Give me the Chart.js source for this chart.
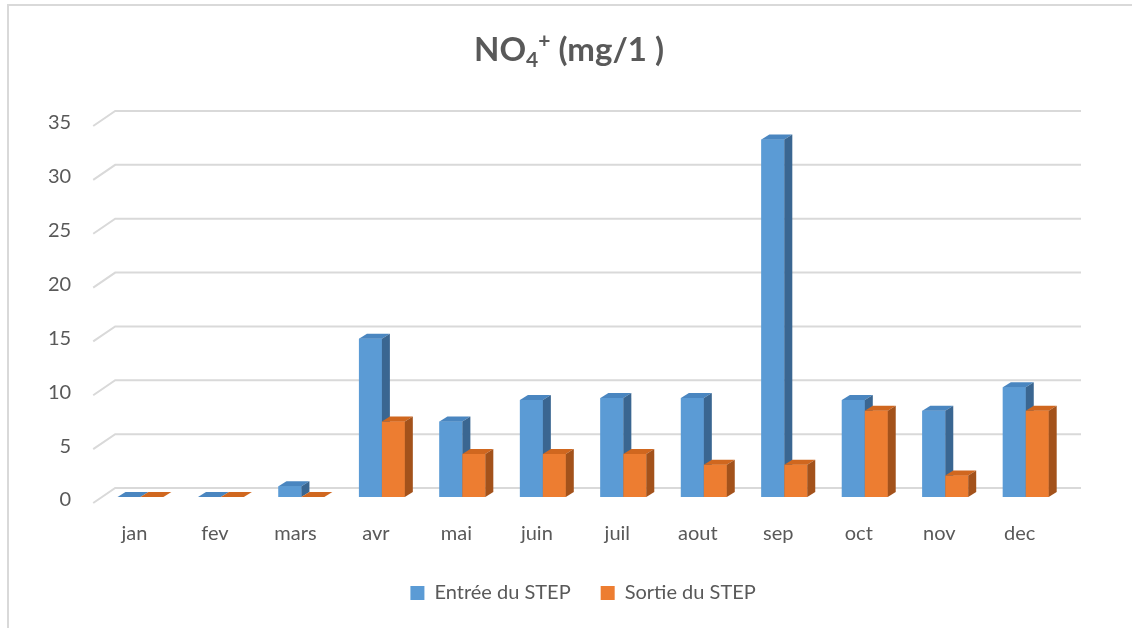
<!DOCTYPE html>
<html>
<head>
<meta charset="utf-8">
<script src="https://cdn.jsdelivr.net/npm/chart.js@4/dist/chart.umd.min.js"></script>
<style>
  html, body { margin: 0; padding: 0; background: #fff; }
  #wrap { position: relative; width: 1132px; height: 628px; overflow: hidden; }
  #frame { position: absolute; left: 7px; top: 4px; right: -10px; bottom: -10px;
           border-top: 2px solid #D9D9D9; border-left: 2px solid #D9D9D9; }
  #titre { position: absolute; left: 0; width: 1138px; top: 28px; text-align: center;
           font-family: Lato, "Open Sans", sans-serif; font-weight: bold; font-size: 33px;
           color: #595959; }
  #titre sub { font-size: 21px; vertical-align: -6px; line-height: 0; }
  #titre sup { font-size: 21px; vertical-align: 13px; line-height: 0; }
  canvas { position: absolute; left: 0; top: 0; }
</style>
</head>
<body>
<div id="wrap">
  <div id="frame"></div>
  <canvas id="chartNO4" width="1132" height="628"></canvas>
  <div id="titre">NO<sub>4</sub><sup>+</sup> (mg/1 )</div>
</div>
<script>
var mois = ["jan", "fev", "mars", "avr", "mai", "juin", "juil", "aout", "sep", "oct", "nov", "dec"];

var entreeSTEP = [0, 0, 1, 14.7, 7, 9, 9.2, 9.2, 33.2, 9, 8, 10.2];
var sortieSTEP = [0, 0, 0, 7, 4, 4, 4, 3, 3, 8, 2, 8];

var yTicks = [0, 5, 10, 15, 20, 25, 30, 35];

// couleurs : face avant, dessus, cote
const faces = [
    { front: '#5B9BD5', top: '#4A86C0', side: '#3A6691' },
    { front: '#ED7D31', top: '#D0671F', side: '#A3521B' }
];

const profondeur = { dx: 8, dy: 5 };

// grille "fond" en perspective + faces 3D des barres
const grille3d = {
    id: 'grille3d',
    beforeDatasetsDraw(chart) {
        const ctx = chart.ctx;
        const y = chart.scales.y;
        const area = chart.chartArea;
        ctx.save();
        ctx.strokeStyle = '#D9D9D9';
        ctx.lineWidth = 2;
        yTicks.forEach(function(v) {
            var py = y.getPixelForValue(v);
            ctx.beginPath();
            ctx.moveTo(area.left - 7, py + 6);
            ctx.lineTo(area.left + 15, py - 9);
            ctx.lineTo(area.right + 15, py - 9);
            ctx.stroke();
        });
        ctx.restore();
    },
    afterDatasetsDraw(chart) {
        const ctx = chart.ctx;
        const dx = profondeur.dx, dy = profondeur.dy;
        ctx.save();
        chart.data.datasets.forEach(function(ds, i) {
            var meta = chart.getDatasetMeta(i);
            meta.data.forEach(function(bar) {
                bar.draw(ctx);
                var p = bar.getProps(['x', 'y', 'base', 'width'], true);
                var l = p.x - p.width / 2, r = p.x + p.width / 2;
                // dessus
                ctx.fillStyle = faces[i].top;
                ctx.beginPath();
                ctx.moveTo(l, p.y);
                ctx.lineTo(l + dx, p.y - dy);
                ctx.lineTo(r + dx, p.y - dy);
                ctx.lineTo(r, p.y);
                ctx.closePath();
                ctx.fill();
                // cote
                ctx.fillStyle = faces[i].side;
                ctx.beginPath();
                ctx.moveTo(r, p.y);
                ctx.lineTo(r + dx, p.y - dy);
                ctx.lineTo(r + dx, p.base - dy);
                ctx.lineTo(r, p.base);
                ctx.closePath();
                ctx.fill();
            });
        });
        ctx.restore();
    }
};

var ctxNO4 = document.getElementById("chartNO4").getContext('2d');

var chartNO4 = new Chart(ctxNO4, {
    type: 'bar',
    data: {
        labels: mois,
        datasets: [{
            label: 'Entrée du STEP',
            data: entreeSTEP,
            backgroundColor: faces[0].front
        }, {
            label: 'Sortie du STEP',
            data: sortieSTEP,
            backgroundColor: faces[1].front
        }]
    },
    options: {
        responsive: false,
        animation: false,
        categoryPercentage: 0.57,
        barPercentage: 1,
        layout: {
            padding: { left: 19, right: 66, top: 120, bottom: 15 }
        },
        scales: {
            x: {
                grid: { display: false, drawTicks: false },
                border: { display: false },
                afterFit: function(axis) { axis.height -= 18; },
                ticks: {
                    color: '#595959',
                    font: { family: 'Lato', size: 20 },
                    padding: 25,
                    labelOffset: -6
                }
            },
            y: {
                min: 0,
                max: 35,
                grid: { display: false, drawTicks: false },
                border: { display: false },
                afterBuildTicks: function(axis) {
                    axis.ticks = yTicks.map(function(v) { return { value: v }; });
                },
                ticks: {
                    color: '#595959',
                    font: { family: 'Lato', size: 20 },
                    padding: 29,
                    labelOffset: 3
                }
            }
        },
        plugins: {
            legend: {
                position: 'bottom',
                fullSize: false,
                labels: {
                    color: '#595959',
                    font: { family: 'Lato', size: 20 },
                    boxWidth: 14,
                    boxHeight: 14,
                    padding: 30
                }
            },
            tooltip: { enabled: false }
        }
    },
    plugins: [grille3d]
});
</script>
</body>
</html>
